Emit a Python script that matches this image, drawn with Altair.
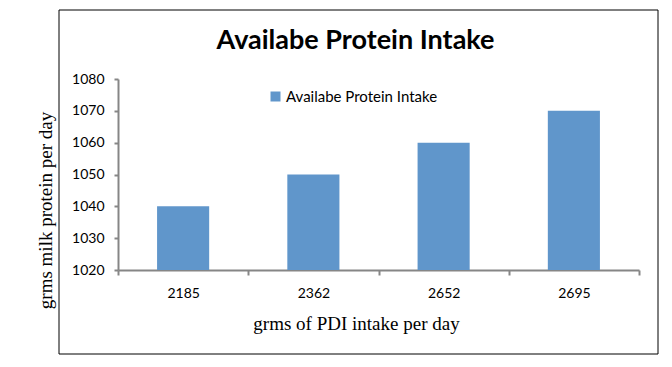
import altair as alt
import pandas as pd

categories = ["2185", "2362", "2652", "2695"]
values = [1040, 1050, 1060, 1070]
series_name = "Availabe Protein Intake"

df = pd.DataFrame({"pdi": categories, "protein": values, "series": [series_name] * 4})

W, H = 521, 191
BAR = "#6096cb"
AXIS = "#868686"
SANS = "Lato"
SERIF = "Liberation Serif"

border = alt.Chart(pd.DataFrame({"a": [0]})).mark_rect(
    filled=False, stroke="black", strokeWidth=1
).encode(
    x=alt.value(-59), x2=alt.value(540), y=alt.value(-69), y2=alt.value(275)
)

bars = alt.Chart(df).mark_bar(color=BAR, width=alt.RelativeBandSize(0.4)).encode(
    x=alt.X("pdi:N", sort=categories,
            scale=alt.Scale(paddingInner=0, paddingOuter=0),
            axis=alt.Axis(title="grms of PDI intake per day", labelAngle=0,
                          labelFont=SANS, labelFontSize=14, labelColor="black",
                          labelPadding=11, tickBand="extent", tickSize=5,
                          tickColor=AXIS, domainColor=AXIS, domainWidth=2,
                          tickWidth=2,
                          titleFont=SERIF, titleFontSize=19, titleFontWeight="normal",
                          titleColor="black", titleX=238, titleY=59,
                          titleAnchor="middle", titleBaseline="alphabetic")),
    y=alt.Y("protein:Q", scale=alt.Scale(domain=[1020, 1080], zero=False, nice=False),
            axis=alt.Axis(title="grms milk protein per day", values=[1020, 1030, 1040, 1050, 1060, 1070, 1080],
                          format="d",
                          grid=False, labelFont=SANS, labelFontSize=14, labelColor="black",
                          labelPadding=10, tickSize=4, tickColor=AXIS, tickWidth=2,
                          domainColor=AXIS, domainWidth=2,
                          titleFont=SERIF, titleFontSize=19, titleFontWeight="normal",
                          titleColor="black", titleAngle=270, titleX=-73, titleY=131,
                          titleAlign="center", titleBaseline="middle")),
    y2=alt.datum(1020),
    color=alt.Color("series:N", scale=alt.Scale(range=[BAR]),
                    legend=alt.Legend(title=None, orient="none", legendX=150, legendY=10,
                                      symbolType="square", symbolSize=100,
                                      symbolStrokeWidth=0, labelFont=SANS,
                                      labelFontSize=15, labelColor="black",
                                      labelOffset=3)),
)

chart = alt.layer(border, bars).properties(
    width=W, height=H,
    title=alt.TitleParams(series_name, font=SANS, fontSize=27, fontWeight="bold",
                          color="black", anchor="middle", dx=-23, offset=-45),
    padding={"left": 110, "top": 71, "right": 25, "bottom": 89},
    autosize=alt.AutoSizeParams(type="none"),
).configure_view(stroke=None)

chart.save("out.html", embed_options={"renderer": "svg", "actions": False})
